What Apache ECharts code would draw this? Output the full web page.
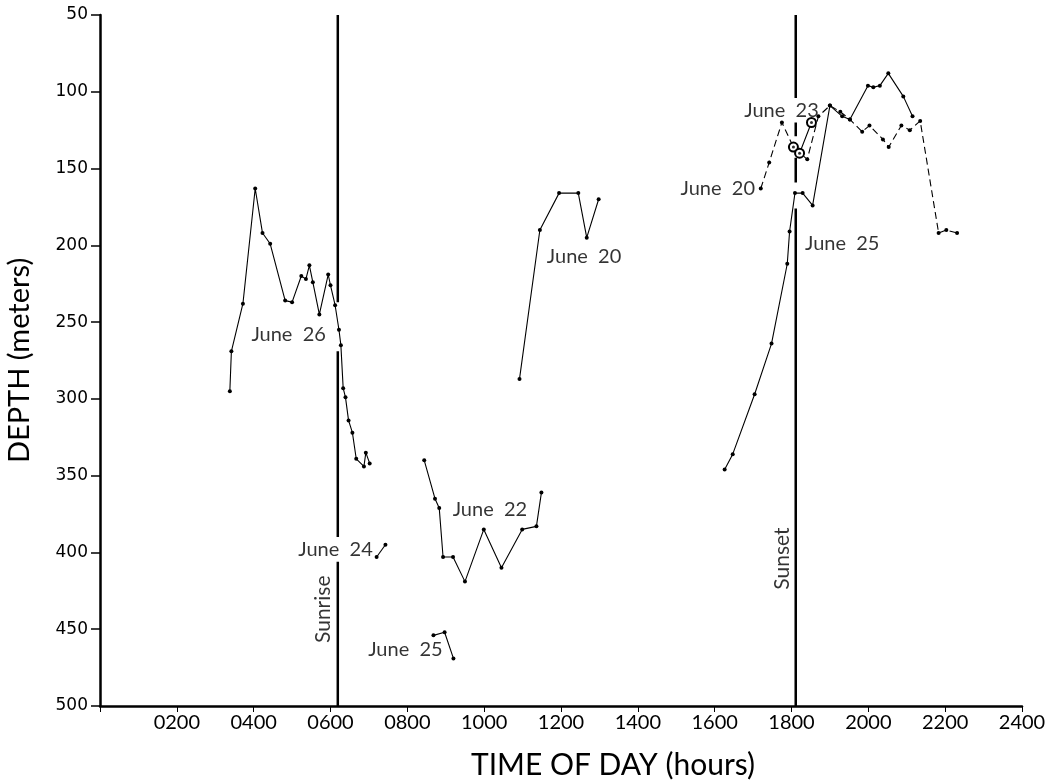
<!DOCTYPE html>
<html>
<head>
<meta charset="utf-8">
<script src="https://cdn.jsdelivr.net/npm/echarts@6/dist/echarts.min.js"></script>
<style>
html,body{margin:0;padding:0;background:#fff;}
#chart{width:1060px;height:780px;}
</style>
</head>
<body>
<div id="chart"></div>
<script>
// ---- Data (time of day in hhmm-like linear units, depth in meters) ----
const june26Time  = [338,342,372,404,423,443,482,500,524,536,545,554,571,594,600,612,622,627,633,639,647,657,667,687,692,702];
const june26Depth = [295,269,238,163,192,199,236,237,220,222,213,224,245,219,226,239,255,265,293,299,314,322,339,344,335,342];

const june24Time  = [720,743];
const june24Depth = [403,395];

const june25amTime  = [868,897,920];
const june25amDepth = [454,452,469];

const june22Time  = [844,872,883,893,919,950,999,1045,1099,1136,1149];
const june22Depth = [340,365,371,403,403,419,385,410,385,383,361];

const june20amTime  = [1092,1145,1195,1245,1267,1298];
const june20amDepth = [287,190,166,166,195,170];

const june25pmTime  = [1626,1647,1704,1748,1789,1795,1809,1829,1855,1900,1932,1952,1999,2013,2030,2052,2091,2115];
const june25pmDepth = [346,336,297,264,212,191,166,166,174,109,116,118,96,97,96,88,103,116];

const june20pmTime  = [1720,1742,1775,1805,1841,1870,1900,1927,1952,1984,2003,2038,2053,2086,2108,2135,2183,2203,2231];
const june20pmDepth = [163,146,120,136,144,116,109,113,118,126,122,131,136,122,125,119,192,190,192];

const june23Time  = [1805,1821,1852];
const june23Depth = [136,140,120];

const sunriseTime = 619;
const sunsetTime = 1811;
const sunriseSegments = [[50,237],[269,390],[406,500]];
const sunsetSegments  = [[50,104],[120,129],[143,159],[176,500]];

const xTicks = [0,200,400,600,800,1000,1200,1400,1600,1800,2000,2200,2400];
const yTicks = [50,100,150,200,250,300,350,400,450,500];

const labelTexts  = ['June  26','June  20','June  22','June  24','June  25','June  23','June  20','June  25','Sunrise','Sunset'];
const labelTime   = [491,1260,1015,613,795,1774,1608,1932,582,1776];
const labelDepth  = [258,207,372,398,463,112,163,199,437,404];
const labelRotate = [0,0,0,0,0,0,0,0,90,90];

// ---- Build ----
function pairs(t, d){ return t.map((v,i)=>[v,d[i]]); }
function vline(x, segs){
  const out=[];
  segs.forEach((s,i)=>{ if(i>0) out.push(['-','-']); out.push([x,s[0]]); out.push([x,s[1]]); });
  return out;
}
const FONT = 'Lato';
function dataLine(name, t, d, dashed){
  return {
    name, type:'line', data:pairs(t,d), symbol:'circle', symbolSize:4,
    itemStyle:{color:'#000'},
    lineStyle:{color:'#000', width:1.1, type: dashed ? [7,4] : 'solid'},
    animation:false, z:3
  };
}

const chart = echarts.init(document.getElementById('chart'));
chart.setOption({
  backgroundColor:'#fff',
  animation:false,
  grid:{left:100, right:38, top:15, bottom:74, containLabel:false, outerBoundsMode:'none'},
  xAxis:{
    type:'value', min:0, max:2400, interval:200,
    name:'TIME OF DAY (hours)', nameLocation:'middle', nameGap:44,
    nameTextStyle:{fontFamily:FONT, fontSize:30, color:'#000', padding:[0,0,0,104]},
    axisLine:{show:true, onZero:false, lineStyle:{color:'#000', width:2.5}},
    axisTick:{show:true, length:6, lineStyle:{color:'#000', width:1}},
    axisLabel:{fontFamily:'Liberation Sans Narrow, Lato', fontSize:20, color:'#000', margin:7,
      formatter:v=> v===0 ? '' : String(v).padStart(4,'0')},
    splitLine:{show:false}
  },
  yAxis:{
    type:'value', min:50, max:500, interval:50, inverse:true,
    name:'DEPTH (meters)', nameLocation:'middle', nameGap:66, nameRotate:90,
    nameTextStyle:{fontFamily:FONT, fontSize:29, color:'#000'},
    axisLine:{show:true, onZero:false, lineStyle:{color:'#000', width:2.5}},
    axisTick:{show:true, length:9, lineStyle:{color:'#000', width:1.5}},
    axisLabel:{fontFamily:'DejaVu Sans', fontSize:17, color:'#000', margin:12},
    splitLine:{show:false}
  },
  series:[
    {name:'Sunrise', type:'line', data:vline(sunriseTime, sunriseSegments), symbol:'none',
     lineStyle:{color:'#000', width:2.5}, connectNulls:false, z:2},
    {name:'Sunset', type:'line', data:vline(sunsetTime, sunsetSegments), symbol:'none',
     lineStyle:{color:'#000', width:2.5}, connectNulls:false, z:2},
    dataLine('June 26', june26Time, june26Depth, false),
    dataLine('June 24', june24Time, june24Depth, false),
    dataLine('June 25 am', june25amTime, june25amDepth, false),
    dataLine('June 22', june22Time, june22Depth, false),
    dataLine('June 20 am', june20amTime, june20amDepth, false),
    dataLine('June 25 pm', june25pmTime, june25pmDepth, false),
    dataLine('June 20 pm', june20pmTime, june20pmDepth, true),
    {name:'June 23', type:'line', data:pairs(june23Time, june23Depth), symbol:'emptyCircle', symbolSize:9,
     itemStyle:{color:'#000', borderColor:'#000', borderWidth:1.5},
     lineStyle:{color:'#000', width:1.1}, z:4},
    {name:'June 23 dots', type:'scatter', data:pairs(june23Time, june23Depth), symbol:'circle', symbolSize:3,
     itemStyle:{color:'#000'}, z:5},
    {name:'labels', type:'scatter', symbolSize:0, z:6, silent:true,
     data: labelTexts.map((s,i)=>({
       value:[labelTime[i], labelDepth[i]],
       label:{show:true, position:'inside', formatter:s, rotate:labelRotate[i],
         fontFamily:FONT, fontSize: labelRotate[i] ? 21 : 20, color:'#000'}
     }))}
  ]
});
</script>
</body>
</html>
